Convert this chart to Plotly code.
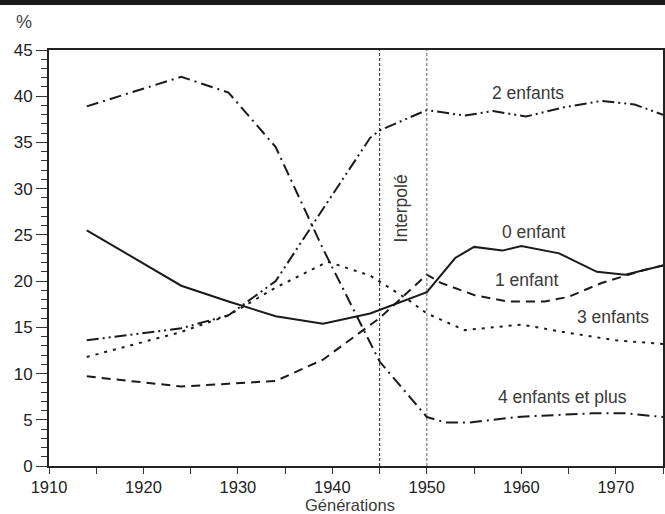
import plotly.graph_objects as go

# ---- data ----
years_0 = [1914, 1924, 1929, 1934, 1939, 1944, 1950, 1953, 1955, 1958, 1960, 1964, 1968, 1971, 1975]
enf_0 = [25.5, 19.5, 17.8, 16.2, 15.4, 16.5, 18.8, 22.5, 23.7, 23.3, 23.8, 23.0, 21.0, 20.7, 21.7]

years_1 = [1914, 1924, 1929, 1934, 1939, 1945, 1950, 1951.5, 1955, 1958.5, 1962.5, 1965, 1968.5, 1973, 1975]
enf_1 = [9.7, 8.6, 8.9, 9.2, 11.5, 16.0, 20.7, 19.8, 18.5, 17.8, 17.8, 18.3, 19.8, 21.2, 21.7]

years_2 = [1914, 1924, 1929, 1934, 1939, 1944, 1945, 1950, 1954, 1957, 1960.5, 1964.5, 1968.5, 1972, 1975]
enf_2 = [13.6, 14.9, 16.3, 20.0, 27.8, 35.5, 36.3, 38.5, 37.9, 38.4, 37.8, 38.8, 39.5, 39.1, 38.0]

years_3 = [1914, 1924, 1929, 1934, 1939.5, 1944, 1948, 1950, 1954, 1960, 1965, 1970, 1975]
enf_3 = [11.8, 14.5, 16.3, 19.3, 22.1, 20.6, 18.0, 16.5, 14.7, 15.3, 14.4, 13.6, 13.2]

years_4 = [1914, 1924, 1929, 1934, 1939, 1945, 1950, 1952, 1954.5, 1959.5, 1967.5, 1971, 1975]
enf_4 = [38.9, 42.1, 40.4, 34.5, 23.5, 11.3, 5.3, 4.7, 4.7, 5.3, 5.7, 5.7, 5.3]

labels = ["0 enfant", "1 enfant", "2 enfants", "3 enfants", "4 enfants et plus"]
label_x = [1961.3, 1960.5, 1960.7, 1969.7, 1964.4]
label_y = [25.3, 20.1, 40.3, 16.1, 7.5]

interp_years = [1945, 1950]

x_ticks = [1910, 1920, 1930, 1940, 1950, 1960, 1970]
y_ticks = [0, 5, 10, 15, 20, 25, 30, 35, 40, 45]

# ---- figure ----
fig = go.Figure()
series = [
    (years_0, enf_0, "solid", 2),
    (years_1, enf_1, "9px,6px", 2),
    (years_2, enf_2, "12px,4px,2px,4px,2px,4px", 2),
    (years_3, enf_3, "3px,6px", 2),
    (years_4, enf_4, "12px,5px,2px,5px", 2),
]
for (xs, ys, dash, w), name in zip(series, labels):
    fig.add_trace(go.Scatter(x=xs, y=ys, mode="lines", name=name,
                             line=dict(color="#1a1a1a", width=w, dash=dash),
                             showlegend=False, hoverinfo="skip"))

vcolors = ["#222", "#666"]
for xv, c in zip(interp_years, vcolors):
    fig.add_shape(type="line", x0=xv, x1=xv, y0=0, y1=45, xref="x", yref="y",
                  line=dict(color=c, width=1, dash="3px,2px"))

label_font = dict(family="Liberation Sans, Arial, sans-serif", size=17.5, color="#3a3a3a")
for t, lx, ly in zip(labels, label_x, label_y):
    fig.add_annotation(x=lx, y=ly, text=t, showarrow=False, font=label_font,
                       xanchor="center", yanchor="middle")

fig.add_annotation(x=1947.3, y=27.9, text="Interpolé", showarrow=False, textangle=-90,
                   font=label_font, xanchor="center", yanchor="middle")

# % label and x title
fig.add_annotation(x=-0.04, y=1.068, xref="paper", yref="paper", text="%", showarrow=False,
                   font=dict(family="Liberation Sans, sans-serif", size=18, color="#444"),
                   xanchor="center", yanchor="middle")
fig.add_annotation(x=0.49, y=-0.094, xref="paper", yref="paper", text="Générations", showarrow=False,
                   font=dict(family="Liberation Sans, sans-serif", size=16.5, color="#3a3a3a"),
                   xanchor="center", yanchor="middle")

# top black bar
fig.add_shape(type="line", xref="paper", yref="paper", layer="above",
              x0=-49/614, x1=1 + 2/614, y0=1 + 47.5/416, y1=1 + 47.5/416,
              line=dict(color="#1a1a1a", width=5))

fig.update_layout(
    width=665, height=514,
    margin=dict(l=49, r=2, t=50, b=48, autoexpand=False),
    paper_bgcolor="white", plot_bgcolor="white",
    font=dict(family="Liberation Sans, Arial, sans-serif", size=17, color="#222"),
)
fig.update_xaxes(range=[1910, 1975], tickvals=x_ticks, ticks="outside", ticklen=5, tickwidth=1,
                 tickcolor="#333", showgrid=False, zeroline=False,
                 showline=True, linecolor="#222", linewidth=2, mirror=True,
                 minor=dict(dtick=5, tick0=1910, ticks="outside", ticklen=6, tickcolor="#333", showgrid=False),
                 tickfont=dict(size=16.5, color="#222"))
fig.update_yaxes(range=[0, 45], tickvals=y_ticks, ticks="outside", ticklen=11, tickwidth=1,
                 tickcolor="#333", showgrid=False, zeroline=False,
                 showline=True, linecolor="#222", linewidth=2, mirror=True,
                 minor=dict(dtick=1, tick0=0, ticks="outside", ticklen=6, tickcolor="#333", showgrid=False),
                 tickfont=dict(size=17, color="#222"))

fig.write_html("out.html", config={"displayModeBar": False},
               post_script="document.body.style.margin='0';document.body.style.padding='0';")
